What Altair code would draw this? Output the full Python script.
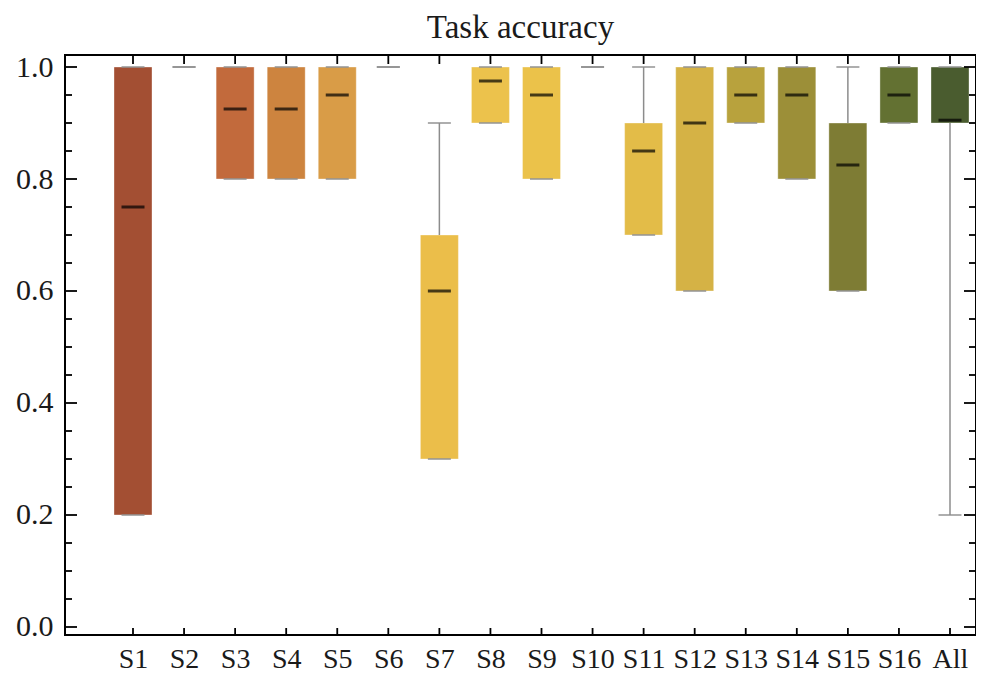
import altair as alt
import pandas as pd

cats = ["S1", "S2", "S3", "S4", "S5", "S6", "S7", "S8", "S9", "S10",
        "S11", "S12", "S13", "S14", "S15", "S16", "All"]
mins = [0.2, 1.0, 0.8, 0.8, 0.8, 1.0, 0.3, 0.9, 0.8, 1.0, 0.7, 0.6, 0.9, 0.8, 0.6, 0.9, 0.2]
q1s = [0.2, 1.0, 0.8, 0.8, 0.8, 1.0, 0.3, 0.9, 0.8, 1.0, 0.7, 0.6, 0.9, 0.8, 0.6, 0.9, 0.9]
medians = [0.75, 1.0, 0.925, 0.925, 0.95, 1.0, 0.6, 0.975, 0.95, 1.0, 0.85, 0.9, 0.95, 0.95, 0.825, 0.95, 0.905]
q3s = [1.0, 1.0, 1.0, 1.0, 1.0, 1.0, 0.7, 1.0, 1.0, 1.0, 0.9, 1.0, 1.0, 1.0, 0.9, 1.0, 1.0]
maxs = [1.0, 1.0, 1.0, 1.0, 1.0, 1.0, 0.9, 1.0, 1.0, 1.0, 1.0, 1.0, 1.0, 1.0, 1.0, 1.0, 1.0]
colors = ["#A34F33", "#B45C37", "#C26A3C", "#CD843F", "#D99C47", "#E2AE49", "#EBBE4A",
          "#ECC24C", "#EBC24A", "#E6BF49", "#E3BC48", "#D5B245", "#B8A23D", "#9C8F38",
          "#7E7C34", "#637132", "#4A5C2F"]

y_major = [0.0, 0.2, 0.4, 0.6, 0.8, 1.0]
y_minor = [0.05, 0.1, 0.15, 0.25, 0.3, 0.35, 0.45, 0.5, 0.55, 0.65, 0.7, 0.75,
           0.85, 0.9, 0.95]

W, H = 911, 580
FONT = "Liberation Serif"
TXT = "#1a1a1a"
GREY = "#8c8c8c"

df = pd.DataFrame({"cat": cats, "lo": mins, "q1": q1s, "med": medians,
                   "q3": q3s, "hi": maxs, "col": colors})
df_major = pd.DataFrame({"v": y_major})
df_minor = pd.DataFrame({"v": y_minor})
df_cats = pd.DataFrame({"cat": cats})

xscale = alt.Scale(type="point", domain=cats, range=[68, 885], padding=0)
yscale = alt.Scale(domain=[-0.01429, 1.02143], nice=False, zero=False)

xaxis = alt.Axis(ticks=False, tickSize=0, domain=False, grid=False,
                 labelFont=FONT, labelFontSize=28, labelColor=TXT,
                 labelPadding=32, labelBaseline="alphabetic", labelAngle=0)
yaxis = alt.Axis(values=y_major, format=".1f", ticks=False, tickSize=0,
                 domain=False, grid=False, labelFont=FONT, labelFontSize=30,
                 labelColor=TXT, labelPadding=12)


def X():
    return alt.X("cat:N", scale=xscale, axis=xaxis, title=None)


def Y(field):
    return alt.Y(field, scale=yscale, axis=yaxis, title=None)


base = alt.Chart(df)

boxes = base.mark_bar(size=38, stroke="#ffffff", strokeOpacity=0.35, strokeWidth=1).encode(
    x=X(), y=Y("q1:Q"), y2="q3:Q",
    color=alt.Color("col:N", scale=None),
).transform_filter("datum.q3 > datum.q1")

whisk_lo = base.mark_rule(color=GREY, strokeWidth=1.5).encode(
    x=X(), y=Y("lo:Q"), y2="q1:Q"
).transform_filter("datum.q1 > datum.lo")

whisk_hi = base.mark_rule(color=GREY, strokeWidth=1.5).encode(
    x=X(), y=Y("q3:Q"), y2="hi:Q"
).transform_filter("datum.hi > datum.q3")

cap_lo = base.mark_tick(color=GREY, size=23, thickness=2, orient="horizontal").encode(
    x=X(), y=Y("lo:Q"))
cap_hi = base.mark_tick(color=GREY, size=23, thickness=2, orient="horizontal").encode(
    x=X(), y=Y("hi:Q"))

med = base.mark_tick(color="#000000", size=23, thickness=3, orient="horizontal").encode(
    x=X(), y=Y("med:Q")
).transform_filter("datum.q3 > datum.q1")


def yticks(d, x0, x1):
    return alt.Chart(d).mark_rule(color="#000000", strokeWidth=1.8).encode(
        y=Y("v:Q"), x=alt.value(x0), x2=alt.value(x1))


left_major = yticks(df_major, 0, 12)
left_minor = yticks(df_minor, 0, 7)
right_major = yticks(df_major, W - 12, W)
right_minor = yticks(df_minor, W - 7, W)

top_ticks = alt.Chart(df_cats).mark_rule(color="#000000", strokeWidth=1.8).encode(
    x=X(), y=alt.value(0), y2=alt.value(9))
bot_ticks = alt.Chart(df_cats).mark_rule(color="#000000", strokeWidth=1.8).encode(
    x=X(), y=alt.value(H), y2=alt.value(H - 7))

chart = alt.layer(
    boxes, whisk_lo, whisk_hi, cap_lo, cap_hi, med,
    left_major, left_minor, right_major, right_minor, top_ticks, bot_ticks,
).properties(
    width=W, height=H,
    background="#ffffff",
    title=alt.TitleParams("Task accuracy", font=FONT, fontSize=33, fontWeight="normal",
                          color=TXT, anchor="middle", frame="group", offset=14,
                          baseline="alphabetic", dy=33),
    autosize=alt.AutoSizeParams(type="none"),
    padding={"left": 57, "top": 47, "right": 0, "bottom": 39},
).configure_view(
    stroke="#000000", strokeWidth=2
)

chart.save("out.html", embed_options={"renderer": "svg", "actions": False})
